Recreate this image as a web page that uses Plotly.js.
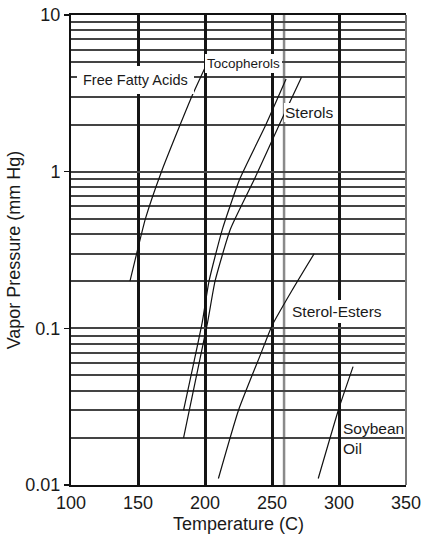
<!DOCTYPE html>
<html>
<head>
<meta charset="utf-8">
<script src="https://cdn.plot.ly/plotly-3.0.1.min.js"></script>
<style>
  html, body { margin: 0; padding: 0; background: #fff; }
  #chart { width: 424px; height: 538px; }
</style>
</head>
<body>
<div id="chart"></div>
<script>
// ---- data (temperature in C, vapor pressure in mm Hg) ----
const ffaTemp   = [144, 149, 155.5, 167.5, 181.5, 190, 200];
const ffaVP     = [0.2, 0.3, 0.5, 1, 2, 3, 4.6];

const tocoTemp  = [184, 198, 203, 213, 226, 245.5, 260.5];
const tocoVP    = [0.03, 0.11, 0.2, 0.43, 0.9, 2, 3.9];

const sterolTemp = [184, 202, 207.5, 219, 237, 255.5, 272];
const sterolVP   = [0.02, 0.11, 0.2, 0.43, 0.9, 2, 4];

const esterTemp = [210, 225, 242, 250, 265, 281.5];
const esterVP   = [0.011, 0.03, 0.07, 0.104, 0.175, 0.3];

const soyTemp   = [284.5, 300, 310.5];
const soyVP     = [0.011, 0.031, 0.057];

const xTickVals = [100, 150, 200, 250, 300, 350];
const xTickText = ['100', '150', '200', '250', '300', '350'];
const yTickVals = [0.01, 0.1, 1, 10];
const yTickText = ['0.01', '0.1', '1', '10'];
const yMinorVals = [0.02, 0.03, 0.04, 0.05, 0.06, 0.07, 0.08, 0.09,
                    0.2, 0.3, 0.4, 0.5, 0.6, 0.7, 0.8, 0.9,
                    2, 3, 4, 5, 6, 7, 8, 9];
const markerTemp = 259;   // grey reference line

const FONT = 'Liberation Sans, Arial, Helvetica, sans-serif';
const lineStyle = {color: '#111', width: 1.2, shape: 'spline', smoothing: 0.5};

function curve(x, y, name) {
  return {x: x, y: y, name: name, type: 'scatter', mode: 'lines',
          line: lineStyle, hoverinfo: 'skip', showlegend: false};
}

const data = [
  curve(ffaTemp, ffaVP, 'Free Fatty Acids'),
  curve(tocoTemp, tocoVP, 'Tocopherols'),
  curve(sterolTemp, sterolVP, 'Sterols'),
  curve(esterTemp, esterVP, 'Sterol-Esters'),
  curve(soyTemp, soyVP, 'Soybean Oil')
];

function lbl(text, x, y, size, pad, extra) {
  return Object.assign({
    text: text, x: x, y: Math.log10(y), xref: 'x', yref: 'y',
    showarrow: false, font: {family: FONT, size: size, color: '#1a1a1a'},
    bgcolor: '#ffffff', borderpad: pad, borderwidth: 0
  }, extra || {});
}

const layout = {
  width: 424, height: 538,
  margin: {l: 71, r: 18, t: 15, b: 53},
  paper_bgcolor: '#ffffff', plot_bgcolor: '#ffffff',
  font: {family: FONT, color: '#1a1a1a', size: 18},
  showlegend: false,
  hovermode: false,
  xaxis: {
    type: 'linear', range: [100, 350],
    tickmode: 'array', tickvals: xTickVals, ticktext: xTickText,
    ticks: '', tickfont: {size: 18, family: FONT, color: '#1a1a1a'},
    showgrid: true, gridcolor: '#151515', gridwidth: 3,
    zeroline: false,
    showline: true, linecolor: '#111', linewidth: 2, mirror: true,
    title: {text: 'Temperature (C)', font: {size: 18, family: FONT, color: '#1a1a1a'}, standoff: 6},
    fixedrange: true
  },
  yaxis: {
    type: 'log', range: [-2, 1],
    tickmode: 'array', tickvals: yTickVals, ticktext: yTickText,
    ticks: 'outside', ticklen: 5, tickwidth: 1.5, tickcolor: '#111',
    tickfont: {size: 18, family: FONT, color: '#1a1a1a'},
    showgrid: true, gridcolor: '#444', gridwidth: 2,
    minor: {tickmode: 'array', tickvals: yMinorVals, showgrid: true,
            gridcolor: '#444', gridwidth: 2, ticks: ''},
    zeroline: false,
    showline: true, linecolor: '#111', linewidth: 2,
    title: {text: 'Vapor Pressure (mm Hg)', font: {size: 18, family: FONT, color: '#1a1a1a'}, standoff: 0},
    fixedrange: true
  },
  shapes: [
    {type: 'line', xref: 'x', yref: 'paper', x0: markerTemp, x1: markerTemp, y0: 0, y1: 1,
     line: {color: '#8a8a8a', width: 2.5}, layer: 'between'},
    {type: 'line', xref: 'paper', yref: 'paper', x0: 1, x1: 1, y0: 0, y1: 1,
     line: {color: '#777', width: 2}, layer: 'above'}
  ],
  annotations: [
    lbl('Free Fatty Acids', 148.4, 3.85, 14.5, 6),
    lbl('Tocopherols', 228.6, 4.92, 13.5, 2),
    lbl('Sterols', 277.5, 2.38, 15.5, 1),
    lbl('Sterol-Esters', 298.6, 0.1278, 15.5, 3),
    lbl('Oil', 302, 0.01718, 15.5, 1, {xanchor: 'left', align: 'left', width: 54}),
    lbl('Soybean', 302, 0.02304, 15.5, 1, {xanchor: 'left', align: 'left', bgcolor: 'rgba(0,0,0,0)'})
  ]
};

Plotly.newPlot('chart', data, layout, {staticPlot: true, displayModeBar: false});
</script>
</body>
</html>
